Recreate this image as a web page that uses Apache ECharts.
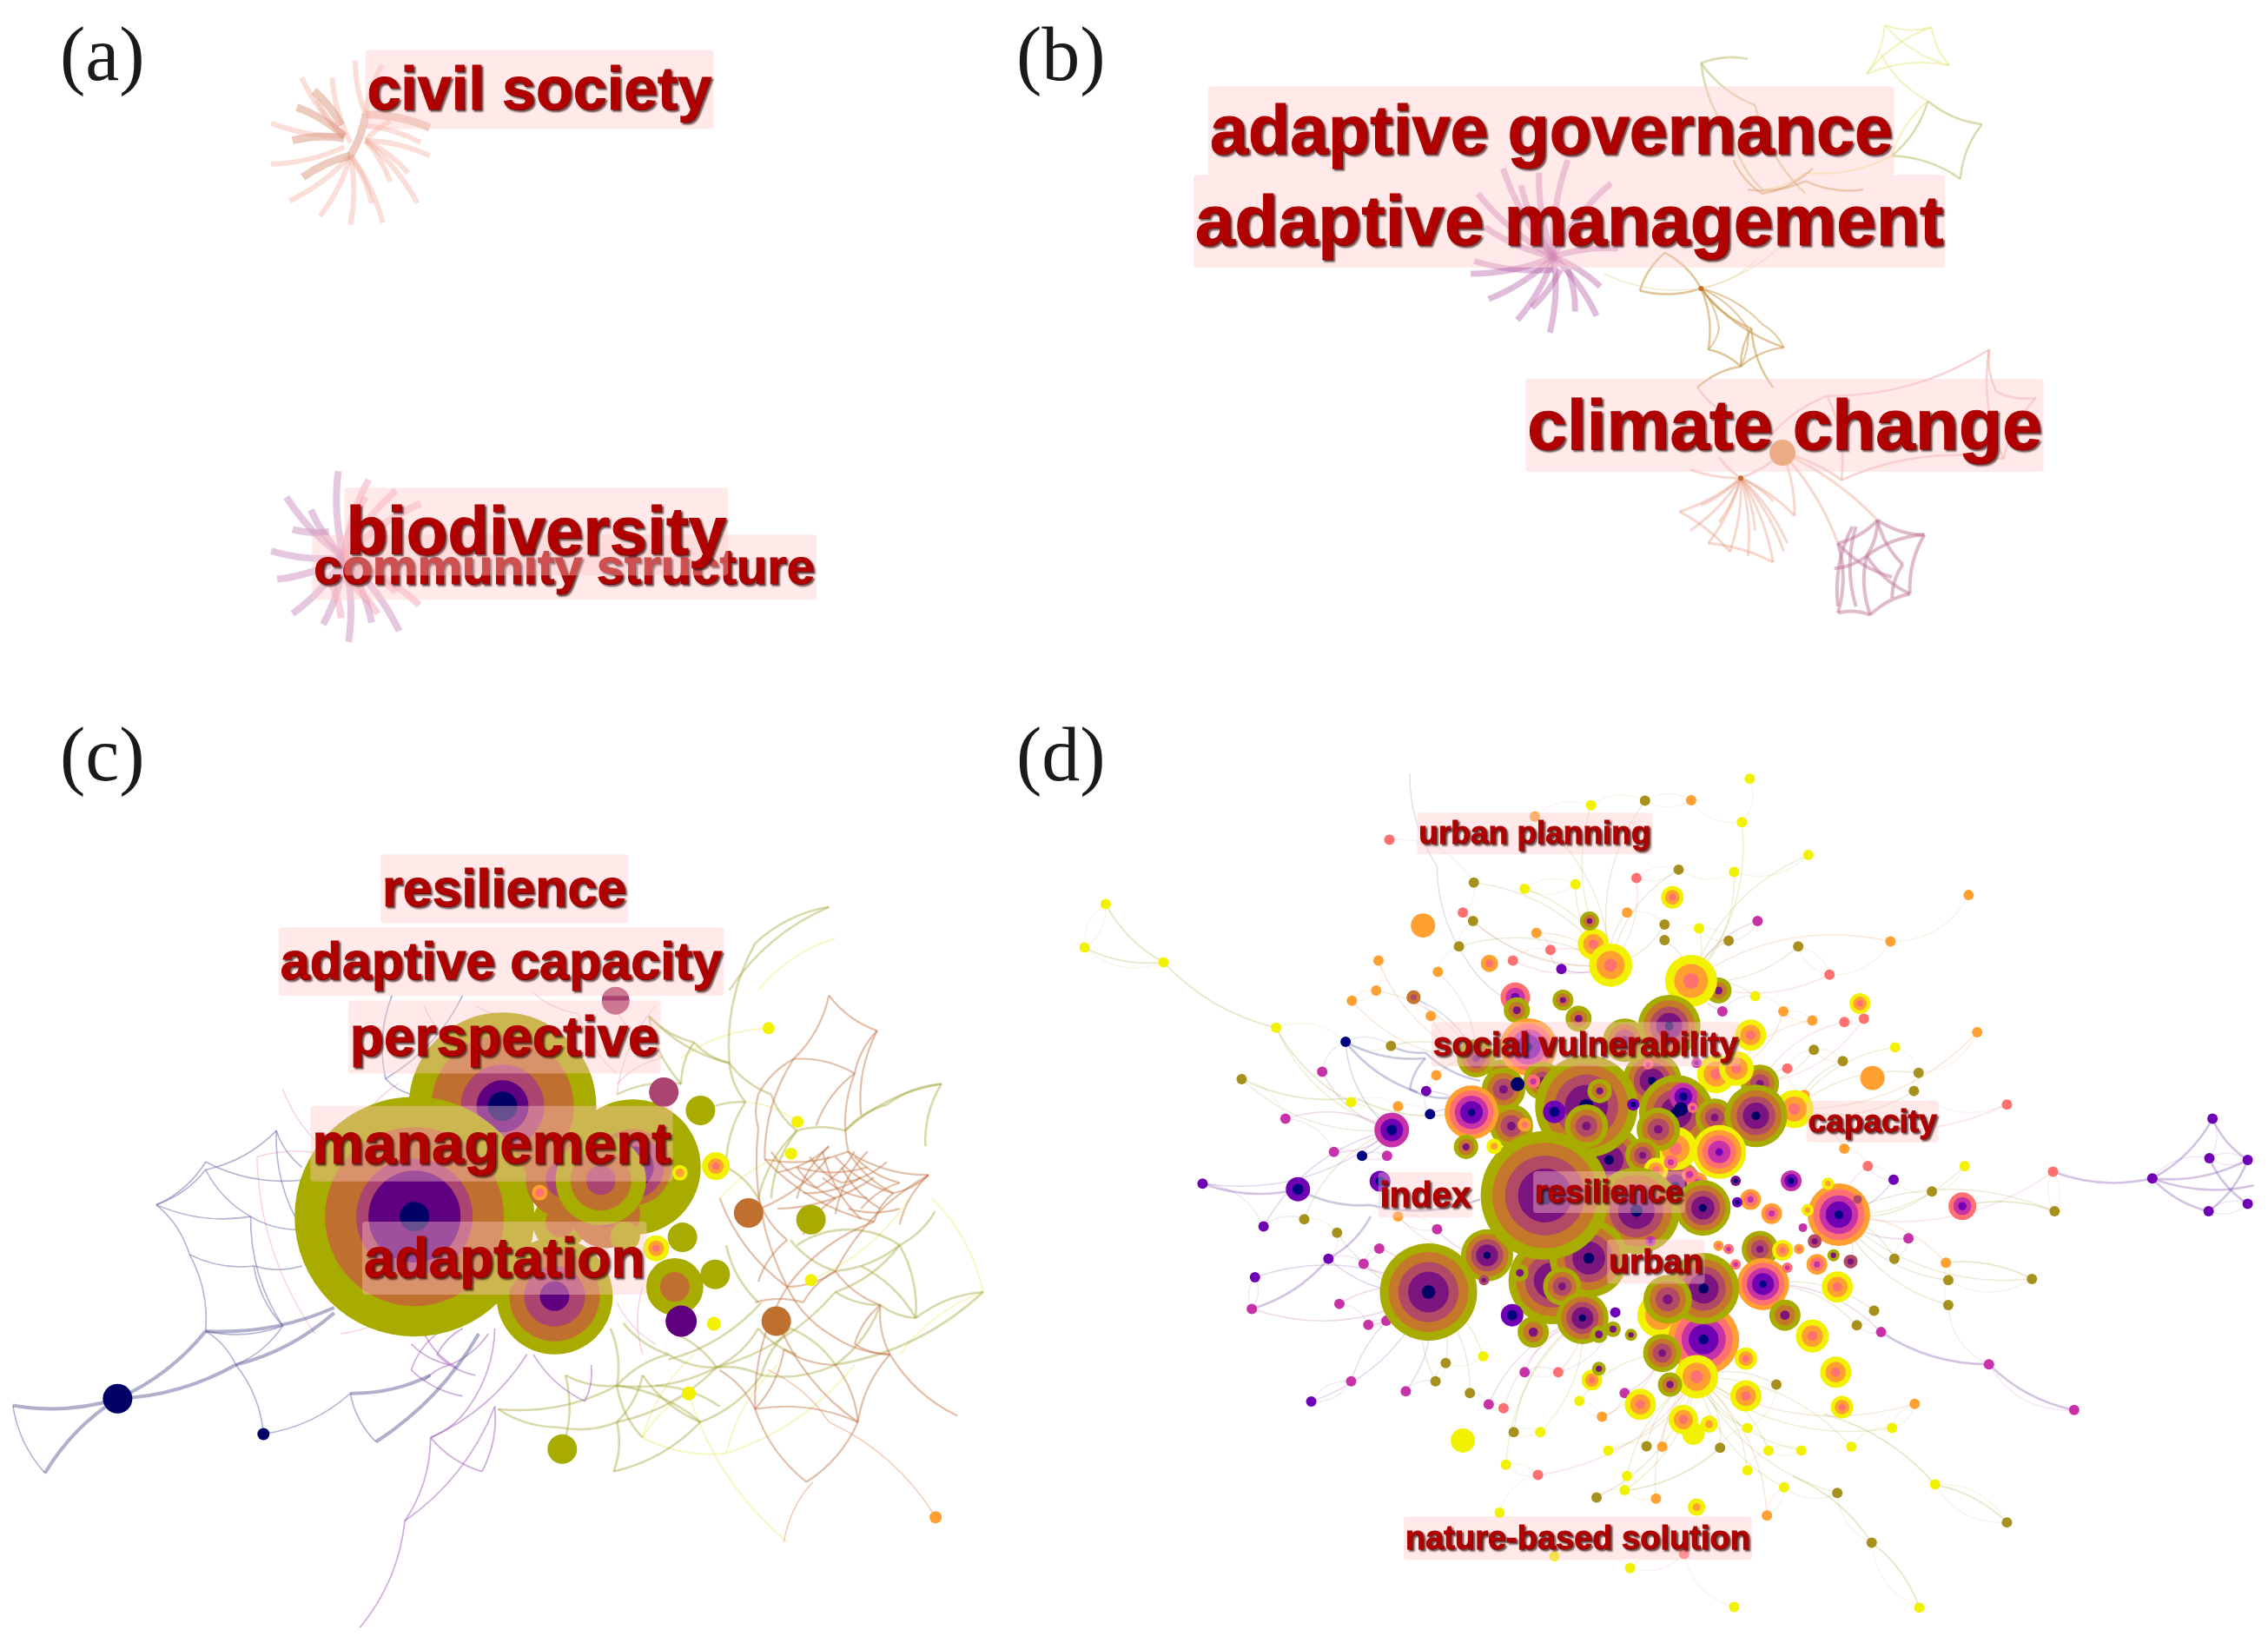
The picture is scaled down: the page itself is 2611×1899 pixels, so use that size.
<!DOCTYPE html>
<html>
<head>
<meta charset="utf-8">
<title>Keyword maps</title>
<script src="https://cdn.jsdelivr.net/npm/echarts@6/dist/echarts.min.js"></script>
<style>
	html, body { margin: 0; background: #fff; }
	#chart { width: 2611px; height: 1899px; }
</style>
</head>
<body>
<div id="chart"></div>
<script>
// panel letters
const panelLetters = ['(a)', '(b)', '(c)', '(d)'];

// keyword labels: text, x, y, weight
const labelsA = [['civil society', 885, 207, 70], ['community structure', 926, 1312, 58], ['biodiversity', 880, 1230, 78]];
const labelsB = [['adaptive governance', 767, 310, 79], ['adaptive management', 792, 525, 82], ['climate change', 1091, 1010, 82]];
const labelsC = [['resilience', 785, 105, 61], ['adaptive capacity', 780, 245, 61], ['perspective', 785, 390, 64], ['management', 765, 595, 67], ['adaptation', 785, 815, 64]];
const labelsD = [['urban planning', 630, 122, 37], ['social vulnerability', 695, 495, 39], ['capacity', 1062, 632, 37], ['index', 490, 762, 40], ['resilience', 725, 757, 37], ['urban', 785, 880, 39], ['nature-based solution', 685, 1370, 38]];

// panel (a) links
const spokesASalmon = [[[565, 315], [445, 285]], [[565, 315], [495, 180]], [[575, 330], [545, 180]], [[600, 265], [583, 140]], [[600, 265], [627, 150]], [[600, 325], [640, 280]], [[600, 325], [705, 360]], [[600, 325], [685, 470]], [[600, 325], [640, 420]], [[575, 360], [628, 515]], [[575, 360], [575, 520]], [[575, 360], [525, 500]], [[575, 360], [475, 465]], [[565, 340], [445, 380]], [[600, 325], [670, 400]], [[575, 360], [610, 470]], [[565, 315], [520, 230]], [[600, 290], [690, 330]]];
const spokesASalmonThick = [[[487, 248], [565, 315]], [[497, 410], [575, 360]], [[600, 265], [575, 360]], [[600, 265], [705, 295]], [[480, 325], [565, 320]], [[515, 210], [560, 290]]];
const spokesAPurple = [[[565, 1290], [555, 1090]], [[565, 1290], [470, 1150]], [[565, 1290], [510, 1180]], [[565, 1290], [445, 1275]], [[565, 1290], [455, 1340]], [[565, 1290], [530, 1445]], [[565, 1290], [572, 1485]], [[565, 1290], [480, 1420]], [[565, 1290], [610, 1440]], [[565, 1290], [655, 1460]], [[540, 1230], [480, 1225]]];
const spokesAPink = [[[565, 1290], [605, 1110]], [[565, 1290], [650, 1135]], [[565, 1290], [690, 1165]], [[565, 1290], [688, 1400]], [[565, 1290], [650, 1370]], [[565, 1290], [600, 1150]], [[565, 1340], [620, 1420]], [[540, 1340], [560, 1430]]];

// panel (b) links
const spokesBPurple = [[[770, 610], [700, 400]], [[770, 610], [750, 410]], [[770, 610], [790, 380]], [[770, 610], [850, 435]], [[770, 610], [665, 460]], [[770, 610], [655, 650]], [[770, 610], [680, 710]], [[770, 610], [720, 760]], [[770, 610], [765, 790]], [[770, 610], [830, 750]], [[770, 610], [835, 680]], [[770, 610], [860, 590]], [[770, 610], [675, 540]], [[770, 610], [725, 440]], [[770, 640], [660, 620]], [[780, 640], [740, 730]], [[790, 640], [800, 740]]];
const websBOlive = [[[1290, 240], [1365, 295], [1335, 425], [1240, 370], [1290, 240]], [[1040, 140], [975, 150], [1020, 330], [1060, 450]], [[975, 150], [1050, 250], [1120, 460]]];
const websBYellow = [[[1230, 60], [1295, 65], [1320, 155], [1205, 175], [1230, 60]], [[1230, 60], [1320, 155]], [[1295, 65], [1205, 175]], [[1225, 130], [1290, 240], [1240, 370]], [[1060, 450], [1120, 410], [1240, 370]]];
const websBTan = [[[975, 685], [1090, 825], [1030, 870], [985, 830], [975, 685]], [[890, 690], [975, 685], [1045, 780], [1075, 920]], [[1045, 780], [1030, 870], [970, 920]], [[975, 685], [925, 600], [890, 690]], [[1040, 450], [1120, 430], [1200, 450]], [[1020, 380], [1060, 460], [1130, 400]]];
const fansBTan = [[[975, 685], [1040, 780], [1030, 870]], [[975, 685], [1000, 780], [985, 830]], [[975, 685], [1060, 770], [1090, 825]]];
const websBFaint = [[[840, 650], [975, 685]], [[975, 685], [1100, 560]], [[975, 685], [1050, 620]]];
const spokesBSalmon = [[[1030, 1135], [945, 1215]], [[1030, 1135], [985, 1290]], [[1030, 1135], [1015, 1310]], [[1030, 1135], [1075, 1335]], [[1030, 1135], [1095, 1290]], [[1030, 1135], [1105, 1225]], [[1030, 1135], [960, 1115]], [[1030, 1135], [1000, 1085]], [[1088, 1075], [1220, 1235]], [[1088, 1075], [1165, 1290]], [[1088, 1075], [1105, 1225]], [[1088, 1075], [1030, 1135]], [[1088, 1075], [1170, 1140]], [[945, 1215], [1015, 1310]], [[985, 1290], [1075, 1335]], [[1030, 1135], [1050, 1260]], [[1030, 1135], [1000, 1240]], [[1030, 1135], [975, 1200]], [[1030, 1135], [1075, 1190]], [[1030, 1135], [1040, 1320]], [[1030, 1135], [960, 1260]], [[1030, 1135], [1090, 1310]]];
const websBRose = [[[1165, 1455], [1165, 1290], [1220, 1235], [1285, 1270], [1265, 1410], [1210, 1460], [1165, 1455]], [[1160, 1350], [1205, 1320], [1210, 1460]], [[1205, 1320], [1220, 1235]], [[1205, 1320], [1265, 1410]], [[1185, 1250], [1165, 1440]], [[1190, 1250], [1190, 1440]], [[1220, 1235], [1255, 1340], [1240, 1420]], [[1285, 1270], [1205, 1320]], [[1165, 1290], [1240, 1370]]];
const websBPink = [[[1375, 830], [1385, 930], [1440, 945], [1395, 1090], [1170, 1140], [1150, 940], [1375, 830]], [[1375, 830], [1395, 1090]], [[1150, 940], [1060, 1060]], [[970, 920], [1030, 1000]]];

// panel (c) links
const websCBlueThick = [[[20, 1098], [183, 1085], [320, 955], [520, 910]], [[183, 1085], [367, 1020], [520, 920]], [[183, 1085], [70, 1228]], [[585, 1168], [745, 960]], [[545, 1075], [670, 1040]]];
const websCBlue = [[[20, 1098], [70, 1228]], [[410, 1153], [545, 1075], [585, 1168]], [[410, 1153], [367, 1020], [320, 955], [295, 808], [243, 712], [320, 645], [430, 570], [470, 640]], [[243, 712], [390, 735], [470, 760]], [[295, 808], [395, 830], [470, 830]], [[320, 645], [390, 735], [440, 945]], [[430, 570], [470, 760]], [[395, 830], [440, 945]], [[610, 310], [600, 470], [720, 310]], [[600, 470], [640, 500]], [[245, 712], [320, 630], [470, 665]], [[367, 1020], [440, 945]], [[320, 955], [440, 945]]];
const websCPurple = [[[560, 1525], [630, 1320], [770, 1100]], [[630, 1320], [670, 1160], [750, 1225]], [[670, 1160], [730, 1100], [770, 950]], [[640, 980], [700, 1020], [760, 960]], [[660, 960], [710, 1025]], [[830, 1000], [910, 1090]], [[910, 1090], [920, 1020]], [[670, 1160], [820, 1000]], [[750, 1225], [770, 1100]], [[680, 960], [640, 1030], [720, 1080]], [[720, 950], [680, 1000], [740, 1040]], [[700, 1020], [660, 1050]]];
const websCPink = [[[440, 490], [520, 620], [400, 620], [490, 960]], [[830, 305], [900, 345], [960, 460]], [[660, 330], [720, 420]], [[530, 960], [640, 900]], [[960, 340], [1030, 430], [960, 480]], [[1000, 870], [1000, 1000]], [[1020, 330], [960, 500]], [[740, 330], [800, 350]], [[620, 480], [560, 560]], [[960, 900], [1020, 980]]];
const websCOlive = [[[1290, 140], [1175, 210], [1135, 440]], [[1290, 140], [1135, 300]], [[1010, 350], [1135, 440], [1160, 515], [1090, 535]], [[1010, 350], [1060, 480], [960, 500]], [[775, 1105], [870, 1140], [960, 1130], [1115, 1025]], [[955, 1225], [1090, 1130], [960, 1060], [1115, 1025]], [[955, 1225], [960, 1130]], [[775, 1105], [960, 1060]], [[875, 1182], [880, 1040]], [[1185, 1040], [1300, 1020], [1530, 880], [1425, 930], [1400, 790], [1455, 725]], [[1465, 480], [1315, 570], [1240, 570], [1200, 700]], [[1465, 480], [1440, 600]], [[1300, 1020], [1370, 905], [1425, 930]], [[1185, 1040], [1115, 1025], [1050, 960]], [[1115, 1025], [1300, 880], [1400, 790]], [[1040, 1010], [1185, 900]], [[960, 1060], [950, 950]], [[1230, 780], [1300, 840], [1400, 790]], [[1130, 790], [1180, 900]], [[1240, 570], [1180, 700]], [[1010, 350], [1080, 400], [1135, 440]], [[1080, 400], [1060, 480]], [[970, 940], [1040, 1000], [960, 1060]], [[1040, 1000], [1115, 1025]], [[880, 1040], [960, 1060], [1000, 1160]], [[960, 1130], [1000, 1040], [1090, 1130]], [[1115, 1025], [1180, 950], [1240, 1000]], [[1300, 880], [1370, 905]], [[1400, 790], [1320, 760], [1240, 790]], [[1425, 930], [1340, 830]], [[1180, 700], [1130, 640]], [[1135, 440], [1200, 500], [1240, 570]], [[1160, 515], [1130, 640]], [[1090, 1130], [1185, 1040]], [[1120, 1100], [1020, 1060]], [[1300, 1020], [1230, 950], [1185, 1040]], [[1465, 480], [1380, 520], [1315, 570]]];
const websCBrown = [[[1290, 310], [1365, 378], [1330, 460], [1235, 432], [1290, 310]], [[1235, 432], [1190, 625], [1320, 610], [1445, 655]], [[1330, 460], [1320, 610], [1390, 690], [1360, 745]], [[1180, 565], [1225, 870], [1300, 840], [1370, 905]], [[1385, 1000], [1335, 1130], [1175, 1105], [1255, 1245]], [[1385, 1000], [1490, 1118]], [[1335, 1130], [1300, 1020]], [[1225, 870], [1175, 1105]], [[1190, 625], [1360, 745], [1225, 870]], [[1445, 655], [1300, 840]], [[1300, 620], [1390, 690], [1445, 655]], [[1240, 640], [1350, 640]], [[1210, 720], [1360, 660]], [[1280, 610], [1340, 740]], [[1120, 700], [1225, 870]], [[1370, 905], [1385, 1000]], [[1210, 936], [1335, 1130]], [[1165, 728], [1290, 620]], [[1180, 700], [1225, 780], [1180, 860]], [[1240, 640], [1300, 700], [1250, 770]], [[1330, 620], [1400, 670], [1340, 720]], [[1280, 660], [1350, 700]], [[1210, 650], [1290, 600]], [[1300, 840], [1250, 900], [1175, 900]], [[1370, 905], [1330, 980], [1385, 1000]], [[1225, 870], [1290, 960], [1385, 1000]], [[1175, 1105], [1120, 1030]], [[1255, 1245], [1335, 1130]], [[1235, 432], [1180, 500], [1180, 565]], [[1330, 460], [1270, 560]], [[1365, 378], [1340, 540]], [[1445, 655], [1400, 750]], [[1320, 720], [1400, 720]], [[1250, 690], [1340, 660]], [[1175, 1105], [1220, 990], [1300, 1020]], [[1200, 610], [1270, 680], [1330, 610]], [[1260, 620], [1310, 670], [1380, 630]], [[1290, 600], [1240, 700]], [[1310, 640], [1370, 720]], [[1350, 610], [1300, 730]]];
const websCYellow = [[[1000, 1160], [1130, 1190], [1330, 1020]], [[1196, 373], [1060, 430]], [[1241, 553], [1160, 515]], [[1262, 857], [1415, 700]], [[1072, 1075], [1225, 1360]], [[1072, 1075], [1000, 1160]], [[1530, 880], [1450, 700]], [[1231, 614], [1120, 700]], [[1080, 1000], [1000, 1160]], [[1300, 200], [1180, 300]], [[1210, 1020], [1130, 1190]], [[1530, 880], [1400, 1000]]];
const websCOrange = [[[1456, 1313], [1290, 1130], [1195, 1030]], [[1265, 1245], [1220, 1360]]];

// panel (c) ringed nodes: x, y, radii, ramp
const nodesCRinged = [
	[985, 640, [78, 44, 36, 24], 'O'],
	[782, 523, [108, 82, 48, 30, 17], 'O'],
	[863, 888, [67, 52, 35, 17], 'O'],
	[645, 735, [138, 103, 67, 53, 17], 'O'],
	[872, 746, [32, 17], 'O'],
	[942, 729, [40, 15], 'B'],
	[879, 663, [45, 22], 'B'],
	[973, 773, [17], 'O'],
	[935, 665, [52, 35, 17], 'O'],
	[1050, 870, [33, 17], 'O'],
	[1114, 638, [16, 9, 4], 'Y'],
	[1058, 651, [9, 5], 'Y'],
	[840, 689, [9, 5], 'A'],
	[1021, 796, [15, 9, 4], 'Y']
];
// panel (c) plain nodes: x, y, radius, colour group
const nodesCPlain = [
	[958, 320, 16, 'R'], [1033, 496, 17, 'R'], [1090, 531, 17, 'O'], [1062, 775, 17, 'O'], [1113, 846, 17, 'O'],
	[1060, 936, 18, 'U'], [1111, 941, 8, 'Y'], [1165, 728, 17, 'B'], [1262, 741, 17, 'O'], [1208, 936, 17, 'B'],
	[1196, 373, 7, 'Y'], [1241, 553, 7, 'Y'], [1231, 614, 7, 'Y'], [1262, 857, 7, 'Y'], [1072, 1075, 8, 'Y'],
	[875, 1182, 17, 'O'], [183, 1085, 17, 'N'], [410, 1153, 7, 'N'], [1456, 1313, 7, 'G']
];

// panel (b) node
const nodesBPlain = [[1088, 1075, 15, 'T'], [1030, 1135, 3, 'B'], [975, 685, 3, 'B']];

// panel (d) ringed nodes, back to front: x, y, radius, ramp
const nodesDRinged = [
	[605, 412, 17, 'S'], [607, 435, 15, 'O'], [666, 417, 12, 'O'], [686, 450, 15, 'O'], [865, 400, 15, 'O'],
	[705, 318, 18, 'Y'], [727, 355, 25, 'Z'], [830, 383, 30, 'Z'], [802, 463, 36, 'O'], [745, 488, 25, 'O'],
	[555, 520, 22, 'O'], [586, 545, 15, 'O'], [622, 500, 33, 'A'], [906, 479, 18, 'Y'], [918, 565, 22, 'O'],
	[862, 548, 22, 'Z'], [888, 538, 20, 'Z'], [962, 610, 22, 'Z'], [590, 575, 25, 'O'], [600, 640, 25, 'O'],
	[640, 560, 22, 'O'], [780, 560, 34, 'O'], [725, 700, 40, 'O'], [810, 745, 30, 'O'],
	[696, 605, 59, 'O'], [713, 578, 14, 'O'], [811, 616, 43, 'O'], [820, 588, 16, 'M'], [860, 625, 22, 'O'],
	[913, 622, 36, 'O'], [655, 615, 13, 'P'], [696, 640, 25, 'O'], [810, 680, 25, 'Z'], [788, 646, 25, 'O'],
	[768, 692, 20, 'O'], [866, 686, 31, 'Y'], [785, 718, 14, 'Y'], [549, 616, 31, 'A'], [447, 647, 20, 'M'],
	[542, 677, 14, 'O'], [838, 740, 12, 'A'], [760, 790, 50, 'O'], [845, 785, 32, 'O'], [906, 770, 12, 'A'],
	[933, 795, 12, 'A'], [958, 737, 12, 'M'], [1019, 797, 36, 'A'], [918, 858, 21, 'O'], [947, 860, 12, 'Y'],
	[991, 885, 12, 'A'], [922, 920, 30, 'A'], [1017, 925, 18, 'Y'], [950, 975, 18, 'O'], [985, 1012, 19, 'Y'],
	[652, 914, 50, 'O'], [699, 874, 45, 'O'], [569, 869, 30, 'O'], [665, 924, 22, 'O'], [611, 900, 10, 'O'],
	[643, 763, 74, 'O'], [494, 934, 56, 'O'], [691, 980, 30, 'O'], [628, 1005, 18, 'O'], [712, 1009, 10, 'O'],
	[730, 1000, 9, 'O'], [753, 1010, 7, 'O'], [601, 975, 13, 'P'], [790, 975, 26, 'Z'], [846, 1018, 41, 'A'], [846, 928, 41, 'O'],
	[800, 947, 28, 'O'], [793, 1042, 22, 'O'], [837, 1084, 25, 'Z'], [803, 1098, 14, 'O'], [900, 1052, 13, 'Y'],
	[1015, 1076, 18, 'Y'], [900, 1118, 18, 'Y'], [765, 1133, 18, 'Y'], [1023, 1138, 13, 'Y'], [820, 1160, 17, 'Y'],
	[853, 1168, 10, 'Y'], [703, 1090, 12, 'Y'], [712, 1070, 8, 'O'], [1177, 782, 16, 'S'], [327, 752, 14, 'P'],
	[432, 738, 12, 'P'], [1046, 423, 12, 'Y'], [837, 1315, 10, 'Y'], [806, 235, 13, 'Y'], [700, 277, 11, 'O'], [572, 352, 10, 'A']
];
const nodesDPlain = [[1062, 555, 14, 'G'], [487, 285, 14, 'G'], [538, 1197, 14, 'Y'], [833, 1185, 13, 'Y']];
// panel (d) small nodes sitting on top of the central cluster
const nodesDFront = [[968, 858, 6, 'A'], [988, 844, 8, 'R'], [1034, 880, 8, 'R'], [1012, 869, 7, 'O'], [973, 820, 5, 'M'], [953, 891, 6, 'S'], [887, 885, 6, 'S'], [865, 852, 6, 'A'], [878, 858, 6, 'S'], [1043, 770, 5, 'R'], [979, 789, 7, 'Y'], [1005, 742, 7, 'Y'], [887, 737, 6, 'U'], [889, 775, 6, 'P'], [828, 726, 9, 'S'], [804, 704, 8, 'S'], [837, 528, 6, 'M'], [775, 531, 6, 'S'], [628, 561, 8, 'S'], [608, 566, 8, 'N'], [817, 610, 8, 'N'], [756, 602, 7, 'P'], [617, 638, 8, 'A'], [832, 608, 6, 'S'], [578, 676, 9, 'Y'], [778, 844, 6, 'M'], [565, 913, 6, 'R'], [475, 412, 8, 'B']];

// panel (d) small dots by colour
const dotsDYellow = [[905, 25], [895, 102], [980, 160], [885, 190], [702, 72], [617, 220], [682, 212], [840, 290], [912, 410], [81, 247], [54, 324], [155, 350], [299, 466], [395, 598], [564, 1048], [1180, 711], [1091, 501], [593, 1240], [637, 1182], [687, 1127], [724, 1215], [748, 1260], [745, 1285], [902, 1175], [929, 1215], [971, 1215], [1035, 1208], [1087, 1175], [902, 1250], [949, 1280], [1142, 1275], [585, 1325], [655, 1402], [752, 1423], [885, 1492], [1122, 1493]];
const dotsDOrange = [[830, 63], [1185, 231], [1085, 313], [630, 92], [748, 262], [632, 298], [430, 347], [427, 400], [396, 418], [506, 367], [497, 445], [948, 437], [985, 453], [1196, 474], [1026, 680], [975, 585], [1156, 882], [1116, 1132], [716, 1155], [793, 1208], [927, 1330], [785, 1300], [455, 800], [504, 550], [455, 605]];
const dotsDSalmon = [[444, 133], [760, 201], [538, 262], [650, 328], [602, 347], [1007, 372], [1026, 456], [1051, 450], [953, 538], [1234, 602], [1056, 711], [1293, 721], [634, 1258], [821, 1398], [660, 1076], [590, 1140]];
const dotsDMagenta = [[358, 544], [311, 627], [373, 686], [441, 693], [505, 823], [431, 857], [411, 884], [380, 955], [417, 992], [440, 985], [268, 964], [395, 1092], [465, 1110], [571, 1133], [745, 1113], [617, 1076], [1073, 1005], [1211, 1062], [1320, 1143], [1108, 839], [915, 277], [870, 437]];
const dotsDPurple = [[205, 742], [283, 818], [366, 875], [272, 908], [344, 1128], [1089, 735], [1497, 627], [1493, 697], [1420, 733], [1542, 778], [1492, 791], [1542, 700], [664, 362], [491, 578], [733, 970]];
const dotsDNavy = [[388, 491], [496, 619], [409, 693], [473, 413]];
const dotsDOlive = [[255, 557], [552, 209], [814, 186], [796, 311], [878, 312], [967, 322], [771, 64], [446, 498], [377, 829], [987, 505], [939, 1098], [1115, 578], [1121, 546], [1138, 756], [1090, 875], [1266, 911], [1295, 791], [1159, 957], [1042, 993], [1017, 1290], [1061, 1378], [1234, 1342], [867, 1210], [773, 1207], [709, 1298], [603, 1182], [516, 1060], [503, 1092], [547, 1113], [335, 805], [1036, 878], [1013, 868], [1064, 967], [1159, 913], [1024, 525], [533, 322], [551, 277], [796, 283]];

// panel (d) links read as whole chains
const chainsDBlue = [[[388, 491], [490, 520], [470, 575], [520, 590]], [[388, 491], [480, 580]], [[446, 498], [490, 510], [560, 560]], [[327, 752], [420, 780], [560, 770]]];
const chainsDBlueFaint = [[[505, 180], [540, 340], [600, 420]], [[470, 15], [505, 180]]];
const chainsDPurple = [[[1420, 733], [1542, 700]], [[1420, 733], [1550, 745]], [[1420, 733], [1497, 627]], [[1420, 733], [1492, 791]], [[1493, 697], [1542, 778]], [[1492, 791], [1542, 700]], [[1497, 627], [1542, 700]], [[1293, 721], [1420, 733]], [[205, 742], [327, 752]], [[268, 964], [366, 875], [420, 800]], [[1073, 1005], [1211, 1062], [1320, 1143]]];
const chainsDOlive = [[[81, 247], [155, 350], [299, 466], [395, 598]], [[54, 324], [155, 350]], [[255, 557], [400, 590], [520, 620]], [[1122, 1493], [1061, 1378], [960, 1260]], [[1234, 1342], [1142, 1275], [1000, 1150]], [[1266, 911], [1156, 882]], [[1295, 791], [1177, 782]], [[750, 1285], [867, 1210]]];

const gridBoxes = [
	{left: 0, top: 0, width: 1100, height: 780},
	{left: 1150, top: 0, width: 1300, height: 760},
	{left: 0, top: 960, width: 1160, height: 939},
	{left: 1200, top: 880, width: 1411, height: 1019}
];
const letterPositions = [[64, 20], [1165, 20], [64, 826], [1165, 826]];

const rampOlive = ['#a8ab00', '#c0702e', '#ab4470', '#5f0080', '#000066'];
const rampOliveD = ['#a8ab00', '#c6782a', '#b24a66', '#7c1480', '#000066'];
const rampWarm = ['#f2f200', '#ffa030', '#ff7070', '#c832a8', '#7000b4', '#000080'];
const ramps = {
	O: [rampOlive, 0], B: [rampOlive, 1], R: [rampOlive, 2], U: [rampOlive, 3], N: [rampOlive, 4],
	Y: [rampWarm, 0], G: [rampWarm, 1], A: [rampWarm, 1], S: [rampWarm, 2], M: [rampWarm, 3], P: [rampWarm, 4],
	Z: [rampWarm, 0, 3],
	T: [['#e29a5a'], 0]
};
const ringFractions = {
	1: [1],
	2: [1, 0.45],
	3: [1, 0.65, 0.3],
	4: [1, 0.75, 0.5, 0.2],
	5: [1, 0.82, 0.62, 0.42, 0.14]
};
const LABEL_BG = 'rgba(255,200,200,0.4)';

function ringSteps(r) {
	if (r < 6) return 1;
	if (r < 11) return 2;
	if (r < 20) return 3;
	if (r < 30) return 4;
	return 5;
}

function circle(x, y, r, color) {
	return {value: [x, y], symbolSize: r * 2, itemStyle: {color: color, opacity: 1}};
}

function ringsByRadii(list) {
	let out = [];
	list.forEach(function (n) {
		let ramp = ramps[n[3]];
		n[2].forEach(function (r, i) {
			out.push(circle(n[0], n[1], r, ramp[0][Math.min(ramp[1] + i, ramp[0].length - 1)]));
		});
	});
	return out;
}

function ringsBySize(list) {
	let out = [];
	list.forEach(function (n) {
		let ramp = ramps[n[3]];
		let isOlive = ramp[0] === rampOlive;
		let colors = isOlive ? rampOliveD : ramp[0];
		let count = Math.min(ringSteps(n[2]), colors.length - ramp[1], ramp[2] || 9);
		for (let i = 0; i < count; i++) {
			let index = ramp[1] + i;
			// small olive nodes go straight to a plum centre
			if (isOlive && n[3] === 'O' && count <= 3 && i === count - 1) index = 3;
			out.push(circle(n[0], n[1], n[2] * ringFractions[count][i], colors[index]));
		}
	});
	return out;
}

function plain(list) {
	return list.map(function (n) {
		let ramp = ramps[n[3]];
		return circle(n[0], n[1], n[2], ramp[0][ramp[1]]);
	});
}

function dots(list, color) {
	return list.map(function (p) {
		return circle(p[0], p[1], 6, color);
	});
}

// every consecutive pair in a chain becomes one curved link
function links(chains, color, width, opacity, curve) {
	let out = [];
	chains.forEach(function (c) {
		for (let i = 0; i + 1 < c.length; i++) {
			out.push({coords: [c[i], c[i + 1]], lineStyle: {color: color, width: width, opacity: opacity, curveness: curve === undefined ? -0.15 : curve}});
		}
	});
	return out;
}

// panel (d): each dot links to the nearest large node (if close) and nearest other dot
function dotLinks(list, color) {
	let bigNodes = nodesDRinged.filter(function (n) { return n[2] >= 20; });
	let allDots = [].concat(dotsDYellow, dotsDOrange, dotsDSalmon, dotsDMagenta, dotsDPurple, dotsDNavy, dotsDOlive);
	let out = [];
	function nearest(p, candidates) {
		let best = null, bestD = Infinity;
		candidates.forEach(function (c) {
			let d = (c[0] - p[0]) * (c[0] - p[0]) + (c[1] - p[1]) * (c[1] - p[1]);
			if (d > 0 && d < bestD) { bestD = d; best = c; }
		});
		return {point: best, dist: bestD};
	}
	list.forEach(function (p, i) {
		let a = nearest(p, bigNodes);
		let b = nearest(p, allDots);
		if (a.dist < 90000) {
			out.push({coords: [p, [a.point[0], a.point[1]]], lineStyle: {color: color, width: 1.5, opacity: 0.22, curveness: i % 2 ? 0.22 : -0.22}});
		}
		if (b.dist < 20000) {
			out.push({coords: [p, b.point], lineStyle: {color: color, width: 1.2, opacity: 0.14, curveness: 0.3}});
		}
	});
	return out;
}

function linkSeries(panel, data) {
	return {
		type: 'lines', coordinateSystem: 'cartesian2d', xAxisIndex: panel, yAxisIndex: panel,
		polyline: false, silent: true, z: 1, clip: false, data: data
	};
}

function nodeSeries(panel, data) {
	return {
		type: 'scatter', xAxisIndex: panel, yAxisIndex: panel, symbol: 'circle', silent: true,
		z: 2, clip: false, progressive: 0, data: data
	};
}

function labelSeries(panel, list) {
	return {
		type: 'scatter', xAxisIndex: panel, yAxisIndex: panel, symbolSize: 1, silent: true,
		z: 3, clip: false, progressive: 0,
		itemStyle: {color: 'transparent', opacity: 1},
		data: list.map(function (l) {
			let padTop = Math.round(l[3] * 0.12);
			let line = Math.round(l[3] * 1.18);
			return {
				value: [l[1], l[2]],
				label: {
					show: true, position: 'inside', formatter: l[0], opacity: 1,
					verticalAlign: 'top', offset: [0, -(padTop + line) / 2],
					fontFamily: 'Liberation Sans', fontWeight: 'bold', fontSize: l[3],
					lineHeight: line, padding: [padTop, 2, 0, 2],
					color: '#b00000', backgroundColor: LABEL_BG, borderRadius: 4,
					textBorderColor: '#b00000', textBorderWidth: 1,
					textShadowColor: 'rgba(40,0,0,0.65)', textShadowBlur: 2,
					textShadowOffsetX: 2, textShadowOffsetY: 2
				}
			};
		})
	};
}

let series = [
	linkSeries(0, [].concat(
		links(spokesASalmon, '#f4b0a0', 6, 0.42, 0.1),
		links(spokesASalmonThick, '#dc9880', 9, 0.5, 0.1),
		links(spokesAPurple, '#cc90c0', 8, 0.5, 0.1),
		links(spokesAPink, '#f098b0', 8, 0.45, 0.1)
	)),
	linkSeries(1, [].concat(
		links(spokesBPurple, '#b860a8', 7, 0.42, 0.1),
		links(websBOlive, '#b8b860', 2.5, 0.5),
		links(websBYellow, '#e8e880', 2, 0.5),
		links(websBTan, '#c89848', 2.5, 0.55),
		links(fansBTan, '#c89848', 2, 0.5, 0.15),
		links(websBFaint, '#e8d8a0', 1.5, 0.5),
		links(spokesBSalmon, '#e89880', 3, 0.38, 0.1),
		links(websBRose, '#c07898', 4, 0.5),
		links(websBPink, '#f0a8a0', 2.5, 0.5)
	)),
	linkSeries(2, [].concat(
		links(websCPink, '#f0a0b0', 1.5, 0.45),
		links(websCYellow, '#e8e860', 1.8, 0.4),
		links(websCOlive, '#a0a030', 2.6, 0.4),
		links(websCBrown, '#c07040', 2.2, 0.45),
		links(websCOrange, '#e89060', 1.4, 0.5),
		links(websCPurple, '#a060b8', 1.8, 0.5),
		links(websCBlue, '#6868a8', 1.6, 0.5),
		links(websCBlueThick, '#505090', 4, 0.45, -0.12)
	)),
	linkSeries(3, [].concat(
		dotLinks(dotsDYellow, '#b8b840'),
		dotLinks(dotsDOrange, '#e09850'),
		dotLinks(dotsDSalmon, '#f08888'),
		dotLinks(dotsDMagenta, '#b050a0'),
		dotLinks(dotsDPurple, '#8040b0'),
		dotLinks(dotsDNavy, '#5050a0'),
		dotLinks(dotsDOlive, '#a8a050'),
		links(chainsDBlue, '#6060a0', 2.6, 0.35),
		links(chainsDBlueFaint, '#8080b8', 1.4, 0.25),
		links(chainsDPurple, '#8050a8', 2.6, 0.35),
		links(chainsDOlive, '#b0b050', 1.8, 0.3)
	)),
	nodeSeries(1, plain(nodesBPlain)),
	nodeSeries(2, ringsByRadii(nodesCRinged).concat(plain(nodesCPlain))),
	nodeSeries(3, [].concat(
		dots(dotsDYellow, rampWarm[0]),
		dots(dotsDOrange, rampWarm[1]),
		dots(dotsDSalmon, rampWarm[2]),
		dots(dotsDMagenta, rampWarm[3]),
		dots(dotsDPurple, rampWarm[4]),
		dots(dotsDNavy, rampWarm[5]),
		dots(dotsDOlive, '#a8901c'),
		plain(nodesDPlain),
		ringsBySize(nodesDRinged),
		ringsBySize(nodesDFront)
	)),
	labelSeries(0, labelsA),
	labelSeries(1, labelsB),
	labelSeries(2, labelsC),
	labelSeries(3, labelsD)
];

let chart = echarts.init(document.getElementById('chart'));
chart.setOption({
	animation: false,
	backgroundColor: '#ffffff',
	title: panelLetters.map(function (t, i) {
		return {
			text: t, left: letterPositions[i][0], top: letterPositions[i][1],
			textStyle: {fontFamily: 'Liberation Serif', fontWeight: 'normal', fontSize: 88, color: '#1a1a1a'}
		};
	}),
	grid: gridBoxes,
	xAxis: gridBoxes.map(function (g, i) {
		return {type: 'value', gridIndex: i, min: 0, max: 1568, show: false};
	}),
	yAxis: gridBoxes.map(function (g, i) {
		return {type: 'value', gridIndex: i, min: 0, max: 1568, inverse: true, show: false};
	}),
	series: series
});
</script>
</body>
</html>
